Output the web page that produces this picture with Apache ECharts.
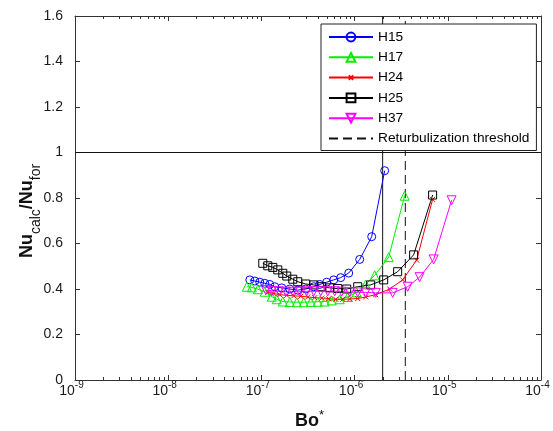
<!DOCTYPE html>
<html><head><meta charset="utf-8">
<script src="https://cdn.jsdelivr.net/npm/echarts@6/dist/echarts.min.js"></script>
<style>html,body{margin:0;padding:0;background:#fff}#c{width:553px;height:431px}</style>
</head><body><div id="c"></div>
<script>
// ---- data ----
const xMin = 1e-9, xMax = 1e-4;
const yMin = 0, yMax = 1.6, yStep = 0.2;
const seriesNames = ['H15', 'H17', 'H24', 'H25', 'H37'];
const thresholdName = 'Returbulization threshold';

const h15X = [7.51e-8, 8.50e-8, 9.61e-8, 1.087e-7, 1.230e-7, 1.392e-7, 1.654e-7, 2.016e-7, 2.455e-7, 2.991e-7, 3.644e-7, 4.225e-7, 5.023e-7, 5.970e-7, 7.096e-7, 8.645e-7, 1.134e-6, 1.526e-6, 2.102e-6];
const h15Y = [0.44, 0.435, 0.43, 0.425, 0.42, 0.41, 0.405, 0.40, 0.395, 0.40, 0.41, 0.42, 0.43, 0.44, 0.45, 0.47, 0.53, 0.63, 0.92];

const h17X = [6.976e-8, 7.89e-8, 9.15e-8, 1.087e-7, 1.293e-7, 1.463e-7, 1.696e-7, 2.016e-7, 2.395e-7, 2.847e-7, 3.384e-7, 4.022e-7, 4.781e-7, 5.683e-7, 6.924e-7, 8.435e-7, 1.053e-6, 1.315e-6, 1.642e-6, 2.321e-6, 3.443e-6];
const h17Y = [0.41, 0.407, 0.399, 0.388, 0.366, 0.355, 0.345, 0.343, 0.342, 0.342, 0.343, 0.344, 0.345, 0.35, 0.355, 0.365, 0.385, 0.42, 0.46, 0.54, 0.81];

const h24X = [1.171e-7, 1.358e-7, 1.575e-7, 1.872e-7, 2.225e-7, 2.645e-7, 3.144e-7, 3.736e-7, 4.441e-7, 5.278e-7, 6.273e-7, 7.456e-7, 8.862e-7, 1.080e-6, 1.315e-6, 1.684e-6, 2.378e-6, 3.277e-6, 4.630e-6, 6.873e-6];
const h24Y = [0.385, 0.38, 0.375, 0.372, 0.37, 0.368, 0.365, 0.362, 0.36, 0.357, 0.355, 0.355, 0.356, 0.358, 0.365, 0.375, 0.40, 0.44, 0.527, 0.794];

const h25X = [1.035e-7, 1.171e-7, 1.325e-7, 1.499e-7, 1.696e-7, 1.872e-7, 2.171e-7, 2.455e-7, 2.991e-7, 3.644e-7, 4.441e-7, 5.409e-7, 6.591e-7, 8.230e-7, 1.080e-6, 1.488e-6, 2.051e-6, 2.897e-6, 4.299e-6, 6.873e-6];
const h25Y = [0.513, 0.502, 0.495, 0.484, 0.469, 0.457, 0.443, 0.432, 0.422, 0.418, 0.41, 0.405, 0.402, 0.40, 0.41, 0.418, 0.44, 0.476, 0.55, 0.813];

const h37X = [1.115e-7, 1.293e-7, 1.537e-7, 1.826e-7, 2.171e-7, 2.580e-7, 3.066e-7, 3.644e-7, 4.333e-7, 5.148e-7, 6.119e-7, 7.273e-7, 8.862e-7, 1.080e-6, 1.315e-6, 1.684e-6, 2.562e-6, 3.707e-6, 4.985e-6, 7.045e-6, 1.098e-5];
const h37Y = [0.395, 0.392, 0.39, 0.388, 0.388, 0.388, 0.39, 0.39, 0.39, 0.39, 0.39, 0.388, 0.386, 0.385, 0.385, 0.383, 0.383, 0.41, 0.452, 0.53, 0.79];

const transitionBo = 2.0e-6;       // solid vertical line
const returbulizationBo = 3.5e-6;  // dashed vertical line
const referenceRatio = 1;          // horizontal line

// ---- chart ----
const FONT = "'Liberation Sans', Arial, Helvetica, sans-serif";
const AX = '#333';
const TXT = '#1a1a1a';

const minorTickValues = [];
for (let e = -9; e < -4; e++) for (let k = 2; k <= 9; k++) minorTickValues.push(k * Math.pow(10, e));

function pairs(xs, ys) { return xs.map((x, i) => [x, ys[i]]); }
function dataSeries(name, xs, ys, color, symbol, size, rotate) {
  return {
    name, type: 'line', data: pairs(xs, ys),
    symbol, symbolSize: size, symbolRotate: rotate || 0, showSymbol: true,
    lineStyle: { color, width: 1 },
    itemStyle: { color: 'rgba(0,0,0,0)', borderColor: color, borderWidth: 1 },
    emphasis: { disabled: true }, animation: false, z: 3
  };
}

const xAxisBase = {
  type: 'log', logBase: 10, min: xMin, max: xMax,
  axisLine: { show: true, onZero: false, lineStyle: { color: AX, width: 1 } },
  axisTick: { show: true, inside: true, length: 5, lineStyle: { color: AX } },
  splitLine: { show: false }, minorTick: { show: false }
};
const yAxisBase = {
  type: 'value', min: yMin, max: yMax, interval: yStep,
  axisLine: { show: true, onZero: false, lineStyle: { color: AX, width: 1 } },
  axisTick: { show: true, inside: true, length: 5, lineStyle: { color: AX } },
  splitLine: { show: false }
};

const chart = echarts.init(document.getElementById('c'), null, { renderer: 'canvas' });
chart.setOption({
  animation: false,
  backgroundColor: '#fff',
  textStyle: { fontFamily: FONT },
  grid: { left: 75, right: 12, top: 16, bottom: 51, containLabel: false, outerBoundsMode: 'none' },
  xAxis: [
    Object.assign({}, xAxisBase, {
      position: 'bottom',
      axisLabel: {
        margin: 0, padding: [0, 7, 0, 0],
        formatter: v => '{b|10}{s|' + Math.round(Math.log10(v)) + '}',
        rich: {
          b: { fontSize: 14, lineHeight: 15, padding: [7, 0, 0, 0], color: TXT, fontFamily: FONT },
          s: { fontSize: 10, lineHeight: 10, verticalAlign: 'top', color: TXT, fontFamily: FONT }
        }
      }
    }),
    Object.assign({}, xAxisBase, { position: 'top', axisLabel: { show: false } })
  ],
  yAxis: [
    Object.assign({}, yAxisBase, {
      position: 'left',
      axisLabel: { margin: 12, fontSize: 14, color: TXT, fontFamily: FONT }
    }),
    Object.assign({}, yAxisBase, { position: 'right', axisLabel: { show: false } })
  ],
  legend: {
    data: seriesNames.concat([thresholdName]),
    orient: 'vertical', left: 321, top: 24,
    padding: [5, 7, 4, 7],
    itemWidth: 44, itemHeight: 11, itemGap: 4.3,
    textStyle: { fontSize: 13.7, lineHeight: 16, color: '#000', fontFamily: FONT },
    backgroundColor: '#fff', borderColor: '#222', borderWidth: 1, borderRadius: 0,
    selectedMode: false
  },
  graphic: [
    {
      type: 'text', x: 27, y: 211, rotation: Math.PI / 2, silent: true,
      style: {
        text: '{b|Nu}{s|calc}{b|/Nu}{s|for}', align: 'center', verticalAlign: 'middle',
        rich: {
          b: { fontSize: 18, fontWeight: 'bold', lineHeight: 18, verticalAlign: 'top', fontFamily: FONT, fill: '#111' },
          s: { fontSize: 14, lineHeight: 14, padding: [18, 0, 0, 0], fontFamily: FONT, fill: '#111' }
        }
      }
    },
    {
      type: 'text', x: 309.5, y: 417.5, silent: true,
      style: {
        text: '{b|Bo}{s|*}', align: 'center', verticalAlign: 'middle',
        rich: {
          b: { fontSize: 18, fontWeight: 'bold', lineHeight: 18, padding: [7, 0, 0, 0], fontFamily: FONT, fill: '#111' },
          s: { fontSize: 13, lineHeight: 13, verticalAlign: 'top', fontFamily: FONT, fill: '#111' }
        }
      }
    }
  ],
  series: [
    {
      name: 'minorTicks', type: 'custom', silent: true, animation: false, z: 1,
      data: minorTickValues.map(v => [v, yMin]),
      renderItem: (params, api) => {
        const v = api.value(0);
        const b = api.coord([v, yMin]);
        const t = api.coord([v, yMax]);
        const x = Math.round(b[0]) + 0.5;
        return { type: 'group', children: [
          { type: 'line', shape: { x1: x, y1: b[1], x2: x, y2: b[1] - 3 }, style: { stroke: AX, lineWidth: 1 } },
          { type: 'line', shape: { x1: x, y1: t[1], x2: x, y2: t[1] + 3 }, style: { stroke: AX, lineWidth: 1 } }
        ] };
      }
    },
    {
      name: 'ratioOne', type: 'line', silent: true, symbol: 'none', z: 2,
      data: [[xMin, referenceRatio], [xMax, referenceRatio]],
      lineStyle: { color: '#111', width: 1 }
    },
    {
      name: 'transition', type: 'line', silent: true, symbol: 'none', z: 2,
      data: [[transitionBo, yMin], [transitionBo, yMax]],
      lineStyle: { color: '#111', width: 1 }
    },
    dataSeries('H15', h15X, h15Y, '#0000ff', 'circle', 8),
    dataSeries('H17', h17X, h17Y, '#00ee00', 'triangle', 9),
    dataSeries('H24', h24X, h24Y, '#ff0000', 'path://M0,0M5,5L15,15M5,15L15,5M20,20', 10),
    dataSeries('H25', h25X, h25Y, '#000000', 'rect', 8),
    dataSeries('H37', h37X, h37Y, '#ff00ff', 'triangle', 9, 180),
    {
      name: thresholdName, type: 'line', silent: true, symbol: 'circle', symbolSize: 0, showSymbol: false, z: 2,
      data: [[returbulizationBo, yMin], [returbulizationBo, yMax]],
      lineStyle: { color: '#111', width: 1, type: [9, 5] },
      itemStyle: { color: 'rgba(0,0,0,0)', borderWidth: 0, borderColor: 'rgba(0,0,0,0)' }
    }
  ]
});
</script></body></html>
